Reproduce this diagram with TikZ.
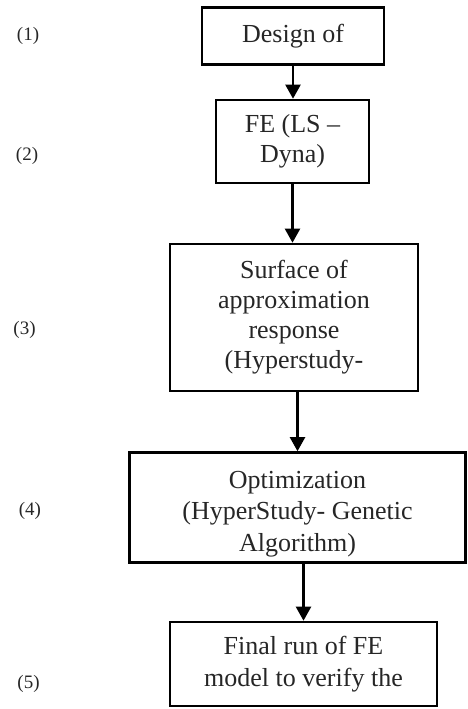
\documentclass[tikz,border=0pt]{standalone}
\usepackage{fontspec}
\setmainfont{Liberation Serif}
\usetikzlibrary{arrows.meta}

\begin{document}
\begin{tikzpicture}[x=1pt,y=-1pt,line cap=butt,line join=miter,
  stepbox/.style={draw,line width=2.6pt,inner sep=0pt,align=center,
    font=\fontsize{26}{30}\selectfont,text=black!85},
  numlabel/.style={inner sep=0pt,font=\fontsize{19}{22}\selectfont,text=black!85},
  flow/.style={line width=2.2pt,-{Triangle[length=14pt,width=15pt]}}]
  \useasboundingbox (0,0) rectangle (467,709);
  % boxes of the chain
  \node[stepbox,minimum width=182pt,minimum height=57pt] (b1) at (293,36) {Design of};
  \node[stepbox,minimum width=153pt,minimum height=83pt] (b2) at (292.5,141.5) {FE (LS --\\Dyna)};
  \node[stepbox,minimum width=248pt,minimum height=147pt] (b3) at (294,317.5) {Surface of\\approximation\\response\\(Hyperstudy-};
  \node[stepbox,minimum width=336pt,minimum height=110pt,font=\fontsize{26}{31.5}\selectfont] (b4) at (297.5,507.5) {\rule{0pt}{30pt}Optimization\\(HyperStudy- Genetic\\Algorithm)};
  \node[stepbox,minimum width=267pt,minimum height=84pt,font=\fontsize{26}{32}\selectfont] (b5) at (303.5,664) {Final run of FE\\model to verify the};
  % arrows
  \draw[flow] (b1.south) -- (b1.south |- b2.north);
  \draw[flow] (b2.south) -- (b2.south |- b3.north);
  \draw[flow] (b3.south -| b4.north) -- (b4.north);
  \draw[flow] (b4.south -| b5.north) -- (b5.north);
  % step numbers
  \node[numlabel] (l1) at (28,36) {(1)};
  \node[numlabel] (l2) at (27,156) {(2)};
  \node[numlabel] (l3) at (24.5,330) {(3)};
  \node[numlabel] (l4) at (30,511) {(4)};
  \node[numlabel] (l5) at (28.5,684) {(5)};
\end{tikzpicture}
\end{document}
